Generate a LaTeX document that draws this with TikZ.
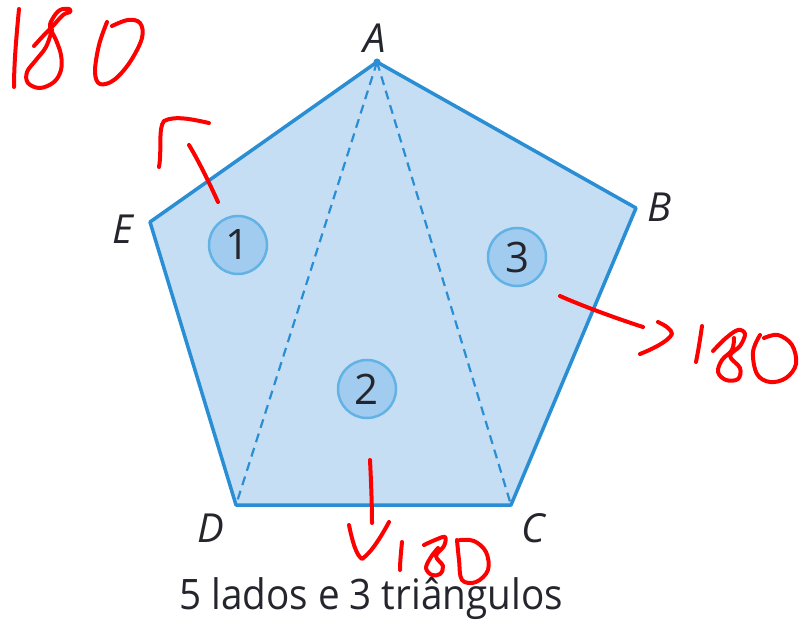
\documentclass[tikz,border=0pt]{standalone}
\usepackage{fontspec}
\setmainfont{Open Sans}
\begin{document}
\begin{tikzpicture}[x=1pt,y=-1pt,
  edge/.style={draw=pentline,line width=3.5pt,line join=round},
  diag/.style={draw=pentline,line width=2.2pt,dash pattern=on 9pt off 6pt},
  vlabel/.style={font=\fontsize{40}{40}\selectfont\itshape,text=labeltext,inner sep=0pt},
  numcirc/.style={circle,minimum size=58pt,inner sep=0pt,fill=circfill,draw=circline,line width=2.5pt,font=\fontsize{42}{42}\selectfont,text=labeltext},
  hand/.style={draw=red,line width=4pt,line cap=round,line join=round},
]
\definecolor{pentfill}{HTML}{C6DEF3}
\definecolor{pentline}{HTML}{2A8ED5}
\definecolor{circfill}{HTML}{A2CCEF}
\definecolor{circline}{HTML}{62B2E6}
\definecolor{labeltext}{HTML}{25252D}
\useasboundingbox (0,0) rectangle (808,620);
\fill[white] (0,0) rectangle (808,620);
% vertices
\coordinate (A) at (377,62);
\coordinate (B) at (636,208);
\coordinate (C) at (511,505);
\coordinate (D) at (236,505);
\coordinate (E) at (150,222);
\fill[pentfill] (A) -- (B) -- (C) -- (D) -- (E) -- cycle;
\draw[diag] (A) -- (D);
\draw[diag] (A) -- (C);
\draw[edge] (A) -- (B) -- (C) -- (D) -- (E) -- cycle;
\fill[pentline] (A) circle (3.5pt);
% labels
\node[vlabel] (lA) at (375,38) {A};
\node[vlabel] (lB) at (659,207) {B};
\node[vlabel] (lC) at (533,528) {C};
\node[vlabel] (lD) at (211,528) {D};
\node[vlabel] (lE) at (123,229) {E};
% circles
\node[numcirc] (n1) at (238,245) {1};
\node[numcirc] (n2) at (367,389) {2};
\node[numcirc] (n3) at (517,257) {3};
% caption
\node[font=\fontsize{42}{42}\selectfont,text=labeltext,anchor=base,inner sep=0pt] (cap) at (371,609) {\scalebox{0.92}[1]{5 lados e 3 triângulos}};
% handwriting top-left
\draw[hand] (19,9) .. controls (16,40) and (14,65) .. (14,87);
\draw[hand] plot[smooth,tension=0.6] coordinates {(34,46) (44,35) (52,27) (63,15) (70,12) (69,9) (60,10) (53,18) (50,27) (56,40) (61,55) (61,70) (54,82) (40,88) (28,83) (27,72) (36,60) (46,47) (52,30)};
\draw[hand] plot[smooth,tension=0.6] coordinates {(107,22) (99,45) (95,72) (100,84) (114,80) (130,62) (142,38) (140,23) (128,20) (112,26)};
% arrow near E
\draw[hand] (218,202) .. controls (208,180) and (198,160) .. (189,145);
\draw[hand] (159,167) .. controls (162,150) and (158,128) .. (164,121) .. controls (175,115) and (195,120) .. (209,123);
% right arrow
\draw[hand] (560,296) .. controls (580,305) and (615,318) .. (643,327);
\draw[hand] (658,322) .. controls (665,325) and (672,330) .. (672,334) .. controls (668,342) and (650,350) .. (640,354);
\draw[hand] (702,326) .. controls (700,340) and (698,352) .. (696,362);
\draw[hand] plot[smooth,tension=0.6] coordinates {(713,351) (726,338) (738,330) (745,334) (740,346) (730,356) (740,368) (738,379) (726,380) (718,372) (722,360) (732,350) (734,338)};
\draw[hand] plot[smooth,tension=0.6] coordinates {(760,335) (753,352) (757,374) (770,382) (786,378) (796,364) (792,345) (778,335) (764,338)};
% bottom arrow
\draw[hand] (370,460) .. controls (371,480) and (372,505) .. (372,523);
\draw[hand] (349,525) .. controls (352,540) and (356,555) .. (362,559) .. controls (372,552) and (382,535) .. (389,522);
\draw[hand] (402,542) .. controls (401,552) and (400,562) .. (400,570);
\draw[hand] plot[smooth,tension=0.6] coordinates {(424,545) (435,540) (445,537) (444,546) (436,556) (443,566) (440,574) (432,575) (426,568) (431,557) (438,548)};
\draw[hand] plot[smooth,tension=0.6] coordinates {(457,540) (459,560) (462,580) (476,582) (488,570) (486,552) (474,541) (460,540)};
\end{tikzpicture}
\end{document}
